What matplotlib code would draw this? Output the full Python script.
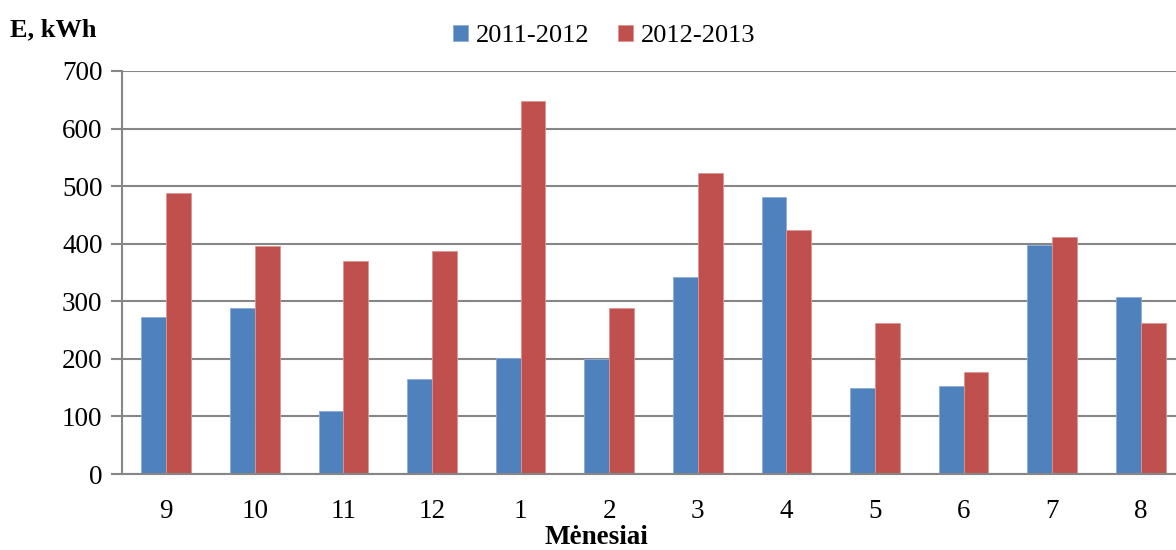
import matplotlib
matplotlib.use("Agg")
import matplotlib.pyplot as plt
import numpy as np

months = ["9", "10", "11", "12", "1", "2", "3", "4", "5", "6", "7", "8"]
e_2011_2012 = [272, 288, 109, 165, 201, 199, 342, 481, 149, 153, 397, 308]
e_2012_2013 = [488, 396, 370, 387, 648, 288, 523, 424, 262, 178, 411, 262]
series_labels = ["2011-2012", "2012-2013"]
yticks = [0, 100, 200, 300, 400, 500, 600, 700]

plt.rcParams['font.family'] = ['Liberation Serif', 'DejaVu Serif']

fig = plt.figure(figsize=(11.76, 5.5), dpi=100)
W, H = 1176, 550
left, right, top, bottom = 122, 1185, 71, 474
ax = fig.add_axes([left / W, 1 - bottom / H, (right - left) / W, (bottom - top) / H])

x = np.arange(len(months))
w = 0.28
ax.bar(x - w / 2, e_2011_2012, w, color="#4F81BD", edgecolor="#8EADD6", linewidth=0.6,
       label=series_labels[0], zorder=3)
ax.bar(x + w / 2, e_2012_2013, w, color="#C0504D", edgecolor="#D99694", linewidth=0.6,
       label=series_labels[1], zorder=3)

ax.set_xlim(-0.5, len(months) - 0.5)
ax.set_ylim(0, 700)
ax.set_yticks(yticks)
ax.set_xticks(x)
ax.set_xticklabels(months)
ax.tick_params(axis='x', length=0, pad=18, labelsize=19.5)
ax.tick_params(axis='y', length=8, width=1.5, color="#868686", pad=6, labelsize=19.5)
ax.yaxis.grid(True, color="#868686", linewidth=1.5, zorder=0)
for s in ["top", "right"]:
    ax.spines[s].set_visible(False)
for s in ["left", "bottom"]:
    ax.spines[s].set_color("#868686")
    ax.spines[s].set_linewidth(1.5)
    ax.spines[s].set_zorder(4)

fig.text(10 / W, 1 - 30 / H, "E, kWh", fontsize=19, fontweight="bold", va="center", ha="left")
fig.text(596 / W, 1 - 538 / H, "Mėnesiai", fontsize=19.5, fontweight="bold", va="center", ha="center")

fig.legend(loc="center", bbox_to_anchor=(604 / W, 1 - 36 / H), ncol=2, frameon=False,
           fontsize=19, handlelength=0.55, handleheight=0.55, handletextpad=0.3,
           columnspacing=1.1)

fig.savefig("out.png", dpi=100)
